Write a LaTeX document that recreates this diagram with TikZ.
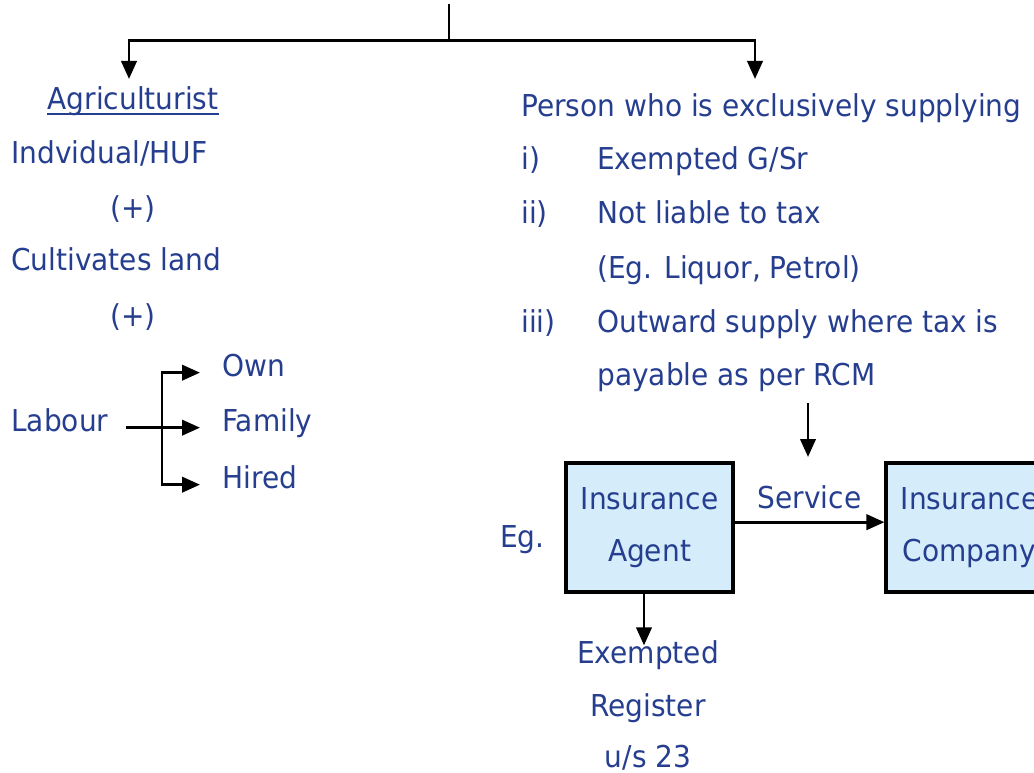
\documentclass[tikz,border=0pt]{standalone}
\usepackage{fontspec}
\setmainfont{DejaVu Sans}[FakeStretch=0.93]
\usetikzlibrary{arrows.meta,calc,positioning}
\definecolor{txtblue}{RGB}{38,62,143}
\definecolor{boxblue}{RGB}{213,237,250}
\tikzset{con/.style={line width=2.2pt, -{Triangle[length=13.5pt,width=11.5pt]}},
  plain/.style={line width=2.2pt},
  lbl/.style={text=txtblue, inner sep=0pt, text height=0.75em, text depth=0.25em,
    font=\fontsize{22.6pt}{39pt}\selectfont},
  boxn/.style={draw, line width=2.6pt, fill=boxblue, text=txtblue, align=center,
    minimum width=125pt, minimum height=96.75pt, font=\fontsize{22.6pt}{39pt}\selectfont}}

\begin{document}
\begin{tikzpicture}[x=0.75pt, y=-0.75pt]
  \useasboundingbox (0,0) rectangle (1034,773);
  % split from the top
  \coordinate (root) at (449,4);
  \coordinate (split) at (449,40.5);
  \coordinate (lft) at (129,79);
  \coordinate (rgt) at (755,79);
  \draw[plain] (root) -- (split);
  \draw[con] (split) -| (lft);
  \draw[con] (split) -| (rgt);
  % left column
  \node[lbl, anchor=base] (agri) at (133,110) {Agriculturist};
  \draw[txtblue, line width=1.5pt] ([yshift=-2.8pt]agri.base west) -- ([yshift=-2.8pt]agri.base east);
  \node[lbl, anchor=base west] (ind) at (11,164) {Indvidual/HUF};
  \node[lbl, anchor=base] (plus1) at (133,219) {(+)};
  \node[lbl, anchor=base west] (cult) at (11,271) {Cultivates land};
  \node[lbl, anchor=base] (plus2) at (133,326) {(+)};
  \node[lbl, anchor=base west] (lab) at (11,431) {Labour};
  \node[lbl, anchor=base west] (own) at (222,376) {Own};
  \node[lbl, anchor=base west] (fam) at (222,431) {Family};
  \node[lbl, anchor=base west] (hir) at (222,488) {Hired};
  % labour bracket
  \coordinate (brk) at (162,424);
  \draw[con] ([xshift=12.75pt]lab.east) -- ([xshift=-16.5pt]fam.west);
  \draw[con] (brk |- fam.west) |- ([xshift=-16.5pt]own.west);
  \draw[con] (brk |- fam.west) |- ([xshift=-16.5pt]hir.west);
  % right column
  \node[lbl, anchor=base west] (head) at (521,117) {Person who is exclusively supplying};
  \node[lbl, anchor=base west] (n1) at (521,170) {i)};
  \node[lbl, anchor=base west] (t1) at (597,170) {Exempted G/Sr};
  \node[lbl, anchor=base west] (n2) at (521,224) {ii)};
  \node[lbl, anchor=base west] (t2) at (597,224) {Not liable to tax};
  \node[lbl, anchor=base west] (t2b) at (597,279) {(Eg. Liquor, Petrol)};
  \node[lbl, anchor=base west] (n3) at (521,332) {iii)};
  \node[lbl, anchor=base west] (t3) at (597,332) {Outward supply where tax is};
  \node[lbl, anchor=base west] (t3b) at (597,385) {payable as per RCM};
  \coordinate (dn) at (808,403);
  \coordinate (dne) at (808,457);
  \draw[con] (dn) -- (dne);
  % example
  \node[lbl, anchor=base west] (eg) at (500,547) {Eg.};
  \node[boxn] (agent) at (649.5,527.5) {Insurance\\Agent};
  \node[boxn] (comp) at (969.5,527.5) {Insurance\\Company};
  \draw[con] ([yshift=4pt]agent.east) -- node[lbl, anchor=base, yshift=10.5pt]{Service} ([yshift=4pt]comp.west);
  \node[lbl, anchor=base] (ex) at (648,663) {Exempted};
  \node[lbl, anchor=base] (reg) at (648,716) {Register};
  \node[lbl, anchor=base] (us) at (648,767) {u/s 23};
  \coordinate (dwn) at (644,592);
  \draw[con, shorten >=5.5pt] (dwn) -- (dwn |- ex.north);
\end{tikzpicture}
\end{document}
